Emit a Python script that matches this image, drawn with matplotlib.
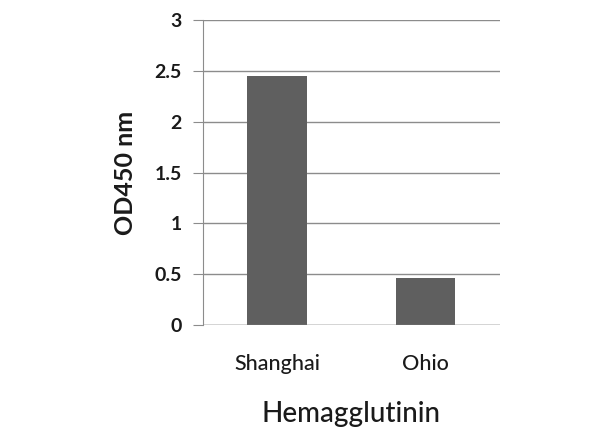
import matplotlib
matplotlib.use("Agg")
import matplotlib.pyplot as plt

categories = ["Shanghai", "Ohio"]
od450 = [2.45, 0.465]
yticks = [0, 0.5, 1, 1.5, 2, 2.5, 3]
ytick_labels = ["0", "0.5", "1", "1.5", "2", "2.5", "3"]

plt.rcParams['font.family'] = ['Lato', 'DejaVu Sans']

fig = plt.figure(figsize=(6, 4.47), dpi=100)
ax = fig.add_axes([0.338, 0.273, 0.495, 0.682])

x = range(len(categories))
ax.bar(x, od450, width=0.4, color="#5f5f5f", zorder=3)

ax.set_xlim(-0.5, 1.5)
ax.set_ylim(0, 3)
ax.set_yticks(yticks)
ax.set_yticklabels(ytick_labels, fontsize=14, fontweight="bold", color="#1a1a1a")
ax.set_xticks(list(x))
ax.set_xticklabels(categories, fontsize=15.5, fontweight="medium", color="#1a1a1a")

ax.grid(axis="y", color="#8c8c8c", linewidth=1, zorder=0)
for side in ["top", "right", "bottom"]:
    ax.spines[side].set_visible(False)
ax.spines["left"].set_color("#8c8c8c")
ax.axhline(0, color="#8c8c8c", linewidth=1, zorder=4)
ax.tick_params(axis="y", length=7, color="#8c8c8c", pad=8)
ax.tick_params(axis="x", length=0, pad=21)

ax.set_ylabel("OD450 nm", fontsize=18, fontweight="bold", labelpad=13, color="#1a1a1a")
ax.set_xlabel("Hemagglutinin", fontsize=20, fontweight="medium", labelpad=19, color="#1a1a1a")

fig.savefig("out.png", dpi=100)
